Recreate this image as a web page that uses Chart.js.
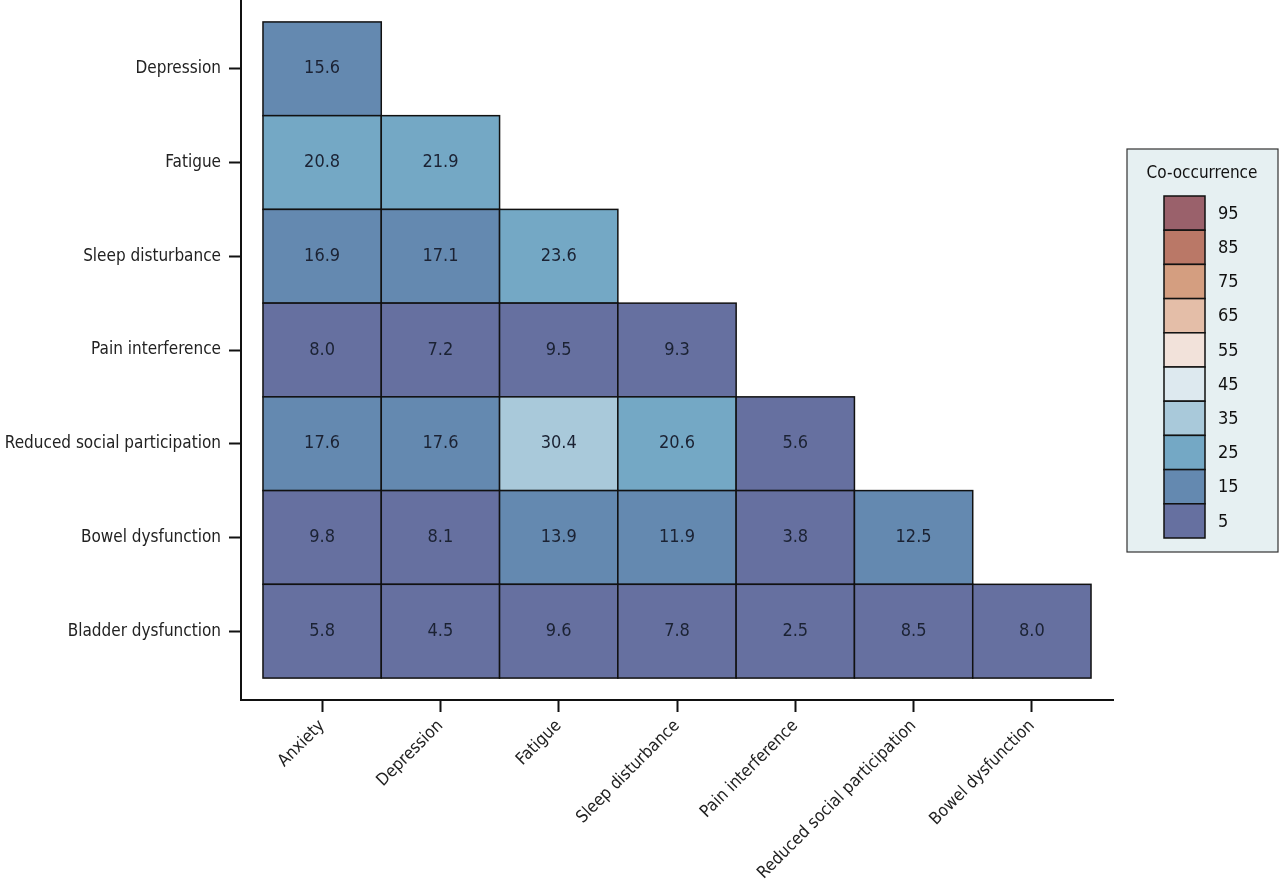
<!DOCTYPE html>
<html>
<head>
<meta charset="utf-8">
<script src="https://cdn.jsdelivr.net/npm/chart.js@4/dist/chart.umd.min.js"></script>
<style>
  html, body { margin: 0; padding: 0; background: #fff; }
  #wrap { width: 1280px; height: 885px; }
</style>
</head>
<body>
<div id="wrap"><canvas id="heat" width="1280" height="885"></canvas></div>
<script>
const FONT = '"Liberation Sans Narrow", "DejaVu Sans Condensed", "Roboto Condensed", sans-serif';

const colLabels = ['Anxiety', 'Depression', 'Fatigue', 'Sleep disturbance', 'Pain interference',
  'Reduced social participation', 'Bowel dysfunction'];
const rowLabels = ['Depression', 'Fatigue', 'Sleep disturbance', 'Pain interference',
  'Reduced social participation', 'Bowel dysfunction', 'Bladder dysfunction'];

// lower triangle, one array per row
const depression = [15.6];
const fatigue = [20.8, 21.9];
const sleepDisturbance = [16.9, 17.1, 23.6];
const painInterference = [8.0, 7.2, 9.5, 9.3];
const reducedSocial = [17.6, 17.6, 30.4, 20.6, 5.6];
const bowelDysfunction = [9.8, 8.1, 13.9, 11.9, 3.8, 12.5];
const bladderDysfunction = [5.8, 4.5, 9.6, 7.8, 2.5, 8.5, 8.0];
const rows = [depression, fatigue, sleepDisturbance, painInterference, reducedSocial, bowelDysfunction, bladderDysfunction];

// colour legend (bin midpoints, top to bottom)
const legendTicks = [95, 85, 75, 65, 55, 45, 35, 25, 15, 5];
const legendColors = ['#9a616b', '#ba7867', '#d49e80', '#e4bea8', '#f2e2da',
  '#dde9ef', '#a9c9da', '#74a8c5', '#6489b0', '#6670a0'];

function colorFor(v) {
  const bin = Math.min(9, Math.floor(v / 10));
  return legendColors[9 - bin];
}

const points = [];
rows.forEach((vals, r) => {
  vals.forEach((v, c) => points.push({ x: c, y: r, v: v }));
});

const cellPlugin = {
  id: 'cells',
  beforeDatasetsDraw(chart) {
    const { ctx, scales: { x, y } } = chart;
    ctx.save();
    chart.data.datasets[0].data.forEach(p => {
      const x0 = x.getPixelForValue(p.x - 0.5), x1 = x.getPixelForValue(p.x + 0.5);
      const y0 = y.getPixelForValue(p.y - 0.5), y1 = y.getPixelForValue(p.y + 0.5);
      ctx.fillStyle = colorFor(p.v);
      ctx.fillRect(x0, y0, x1 - x0, y1 - y0);
      ctx.strokeStyle = '#111';
      ctx.lineWidth = 1.5;
      ctx.strokeRect(x0, y0, x1 - x0, y1 - y0);
      ctx.fillStyle = '#1b2233';
      ctx.font = '18px ' + FONT;
      ctx.textAlign = 'center';
      ctx.textBaseline = 'middle';
      ctx.fillText(p.v.toFixed(1), (x0 + x1) / 2, (y0 + y1) / 2);
    });
    ctx.restore();
  }
};

const legendPlugin = {
  id: 'colorLegend',
  afterDraw(chart) {
    const ctx = chart.ctx;
    ctx.save();
    ctx.fillStyle = '#e6f0f2';
    ctx.fillRect(1127, 149, 151, 403);
    ctx.strokeStyle = '#333';
    ctx.lineWidth = 1.2;
    ctx.strokeRect(1127, 149, 151, 403);
    ctx.fillStyle = '#111';
    ctx.font = '17px ' + FONT;
    ctx.textAlign = 'center';
    ctx.textBaseline = 'middle';
    ctx.fillText('Co-occurrence', 1202, 174);
    const h = 342 / legendTicks.length;
    ctx.font = '18px ' + FONT;
    legendTicks.forEach((t, i) => {
      const top = 196 + i * h;
      ctx.fillStyle = legendColors[i];
      ctx.fillRect(1164, top, 41, h);
      ctx.strokeStyle = '#111';
      ctx.lineWidth = 1.5;
      ctx.strokeRect(1164, top, 41, h);
      ctx.fillStyle = '#111';
      ctx.textAlign = 'left';
      ctx.fillText(String(t), 1218, top + h / 2 + 1);
    });
    ctx.restore();
  }
};

const pad = 22 / 118.4;

new Chart(document.getElementById('heat').getContext('2d'), {
  type: 'scatter',
  data: {
    datasets: [{
      data: points,
      pointRadius: 0,
      pointHoverRadius: 0
    }]
  },
  options: {
    responsive: false,
    animation: false,
    events: [],
    layout: { padding: { top: 0, right: 167, left: 0, bottom: 0 } },
    plugins: { legend: { display: false }, tooltip: { enabled: false } },
    scales: {
      x: {
        type: 'linear',
        min: -0.5 - pad,
        max: 6.5 + pad,
        afterFit(scale) { scale.height = 185; scale.paddingLeft = 0; scale.paddingRight = 0; },
        afterBuildTicks(scale) { scale.ticks = colLabels.map((_, i) => ({ value: i })); },
        border: { display: true, color: '#111', width: 2 },
        grid: { drawOnChartArea: false, drawTicks: true, tickLength: 12, tickColor: '#111', tickWidth: 2 },
        ticks: {
          autoSkip: false,
          minRotation: 45,
          maxRotation: 45,
          padding: 4,
          color: '#222',
          font: { family: FONT, size: 17 },
          callback: v => colLabels[v]
        }
      },
      y: {
        type: 'linear',
        reverse: true,
        min: -0.5 - 22 / 94,
        max: 6.5 + 22 / 94,
        afterFit(scale) { scale.width = 241; scale.paddingTop = 0; scale.paddingBottom = 0; },
        afterBuildTicks(scale) { scale.ticks = rowLabels.map((_, i) => ({ value: i })); },
        border: { display: true, color: '#111', width: 2 },
        grid: { drawOnChartArea: false, drawTicks: true, tickLength: 12, tickColor: '#111', tickWidth: 2 },
        ticks: {
          autoSkip: false,
          padding: 8,
          color: '#222',
          font: { family: FONT, size: 17 },
          callback: v => rowLabels[v]
        }
      }
    }
  },
  plugins: [cellPlugin, legendPlugin]
});
</script>
</body>
</html>
